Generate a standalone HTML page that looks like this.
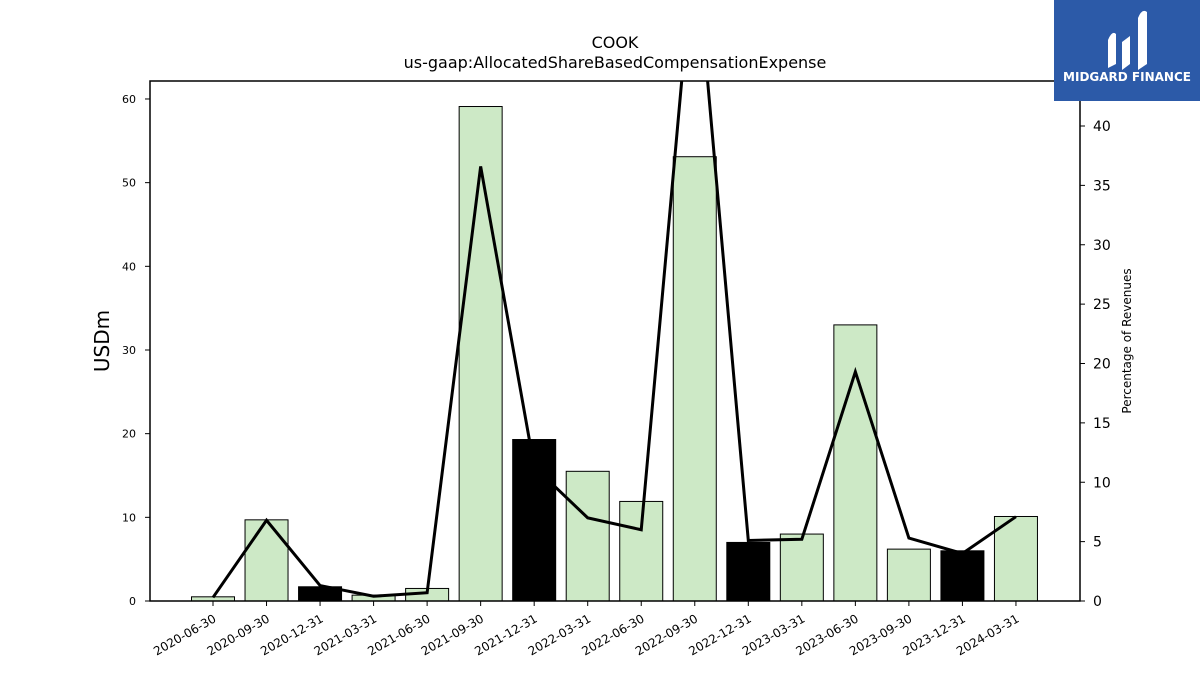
<!DOCTYPE html>
<html><head><meta charset="utf-8"><style>
body{margin:0;background:#fff;width:1200px;height:675px;overflow:hidden;font-family:"Liberation Sans","DejaVu Sans",sans-serif}
svg text{font-family:"DejaVu Sans","Liberation Sans",sans-serif}
</style></head><body>
<svg id="chart" width="1200" height="675" xmlns="http://www.w3.org/2000/svg">
<text x="615" y="48" text-anchor="middle" font-size="16">COOK</text>
<text x="615" y="68" text-anchor="middle" font-size="16">us-gaap:AllocatedShareBasedCompensationExpense</text>
<g id="bars"></g><g id="line"></g><g id="axes"></g>
<rect x="150" y="81" width="930" height="520" fill="none" stroke="#000" stroke-width="1.5"/>
<text transform="translate(109,341) rotate(-90)" text-anchor="middle" font-size="20">USDm</text>
<text transform="translate(1131,341) rotate(-90)" text-anchor="middle" font-size="12">Percentage of Revenues</text>
<g>
<rect x="1054" y="0" width="146" height="101" fill="#2c5aa8"/>
<path d="M1108 68 L1108 40 Q1112 30 1116 34 L1116 64 Z M1122 70 L1122 42 L1130 36 L1130 64 Z M1138 70 L1138 18 Q1142 8 1147 12 L1147 64 Z" fill="#fff"/>
<text x="1127" y="81" text-anchor="middle" font-size="12" font-weight="bold" fill="#fff">MIDGARD FINANCE</text>
</g>
</svg>
<script>
const categories=["2020-06-30","2020-09-30","2020-12-31","2021-03-31","2021-06-30","2021-09-30","2021-12-31","2022-03-31","2022-06-30","2022-09-30","2022-12-31","2023-03-31","2023-06-30","2023-09-30","2023-12-31","2024-03-31"];
const expenseValues=[0.5,9.7,1.7,0.7,1.5,59.1,19.3,15.5,11.9,53.1,7.0,8.0,33.0,6.2,6.0,10.1];
const pctRevenue=[0.3,6.8,1.3,0.4,0.7,36.6,11.3,7.0,6.0,56,5.1,5.2,19.3,5.3,4.0,7.1];
const leftTicks=[0,10,20,30,40,50,60];
const rightTicks=[0,5,10,15,20,25,30,35,40];
const NS="http://www.w3.org/2000/svg";
const x0=213,dx=53.53,bw=43;
const xPos=i=>x0+i*dx;
const yL=v=>601-v*8.367;
const yR=v=>601-v*11.875;
function mk(t,a,p){const e=document.createElementNS(NS,t);for(const k in a)e.setAttribute(k,a[k]);p.appendChild(e);return e;}
const bars=document.getElementById('bars'),axes=document.getElementById('axes'),line=document.getElementById('line');
categories.forEach((c,i)=>{
 const q4=c.endsWith('12-31');
 const r=mk('rect',{x:xPos(i)-bw/2,y:yL(expenseValues[i]),width:bw,height:601-yL(expenseValues[i]),fill:q4?'#000':'#cde9c6',stroke:'#000','stroke-width':1},bars);
 
 
 const tk=mk('line',{x1:xPos(i),x2:xPos(i),y1:601,y2:606,stroke:'#000'},axes);
 
 
 const t=mk('text',{transform:`translate(${xPos(i)+4},${621}) rotate(-30)`,'text-anchor':'end','font-size':12},axes);
 t.textContent=c;
 
 
});
const clip=mk('clipPath',{id:'pc'},document.getElementById('chart'));
mk('rect',{x:150,y:81,width:930,height:520},clip);
const pl=mk('polyline',{points:pctRevenue.map((v,i)=>xPos(i)+','+yR(v)).join(' '),fill:'none',stroke:'#000','stroke-width':3,'clip-path':'url(#pc)'},line);


leftTicks.forEach(v=>{
 const l=mk('line',{x1:145,x2:150,y1:yL(v),y2:yL(v),stroke:'#000'},axes);
 
 
 const t=mk('text',{x:136,y:yL(v)+4,'text-anchor':'end','font-size':11},axes);
 t.textContent=v;
 
 
});
rightTicks.forEach(v=>{
 const l=mk('line',{x1:1080,x2:1085,y1:yR(v),y2:yR(v),stroke:'#000'},axes);
 
 
 const t=mk('text',{x:1093,y:yR(v)+5,'font-size':14},axes);
 t.textContent=v;
 
 
});
</script>
</body></html>
